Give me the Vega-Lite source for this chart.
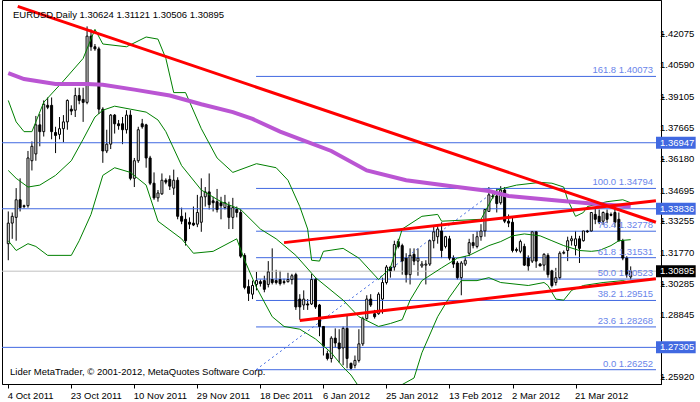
{
"$schema":"https://vega.github.io/schema/vega-lite/v6.json",
"width":659,"height":384,"autosize":"none",
"padding":{"left":2,"top":0,"right":39,"bottom":18},
"background":"#ffffff",
"config":{"view":{"stroke":"#000000","strokeWidth":1},"font":"Liberation Sans"},
"datasets":{
"levels":[{"p":1.36947},{"p":1.33836},{"p":1.27305}],
"bid":[{"p":1.30895}],
"ylabels":[{"p":1.42075},{"p":1.4059},{"p":1.39105},{"p":1.37665},{"p":1.3618},{"p":1.34695},{"p":1.33255},{"p":1.3177},{"p":1.30285},{"p":1.28845},{"p":1.2592}],
"fib":[{"level":"161.8","p":1.40073,"label":"161.8 1.40073"},{"level":"100.0","p":1.34794,"label":"100.0 1.34794"},{"level":"76.4","p":1.32778,"label":"76.4 1.32778"},{"level":"61.8","p":1.31531,"label":"61.8 1.31531"},{"level":"50.0","p":1.30523,"label":"50.0 1.30523"},{"level":"38.2","p":1.29515,"label":"38.2 1.29515"},{"level":"23.6","p":1.28268,"label":"23.6 1.28268"},{"level":"0.0","p":1.26252,"label":"0.0 1.26252"}],
"fibline":[{"i":62.9,"p":1.26252},{"i":124.4,"p":1.34794}],
"candles":[
{"i":0,"o":1.3219,"h":1.3371,"l":1.3141,"c":1.3316},{"i":1,"o":1.3316,"h":1.3366,"l":1.3242,"c":1.3348},{"i":2,"o":1.3343,"h":1.3481,"l":1.3233,"c":1.3426},{"i":3,"o":1.3426,"h":1.3527,"l":1.3371,"c":1.3389},{"i":4,"o":1.3394,"h":1.3403,"l":1.3385,"c":1.3398},{"i":5,"o":1.3398,"h":1.3656,"l":1.3389,"c":1.3623},{"i":6,"o":1.361,"h":1.3701,"l":1.3564,"c":1.3678},{"i":7,"o":1.3642,"h":1.3821,"l":1.361,"c":1.3779},{"i":8,"o":1.3779,"h":1.383,"l":1.3678,"c":1.3747},{"i":9,"o":1.3747,"h":1.3894,"l":1.3724,"c":1.3876},
{"i":10,"o":1.3871,"h":1.3908,"l":1.3853,"c":1.3862},{"i":11,"o":1.3871,"h":1.3908,"l":1.3711,"c":1.3747},{"i":12,"o":1.3743,"h":1.377,"l":1.3646,"c":1.3729},{"i":13,"o":1.3734,"h":1.3816,"l":1.3711,"c":1.3761},{"i":14,"o":1.3761,"h":1.3825,"l":1.3697,"c":1.3793},{"i":15,"o":1.3793,"h":1.3899,"l":1.3756,"c":1.3894},{"i":16,"o":1.3853,"h":1.3871,"l":1.3825,"c":1.3844},{"i":17,"o":1.3848,"h":1.3954,"l":1.3816,"c":1.3917},{"i":18,"o":1.3917,"h":1.3954,"l":1.3876,"c":1.3894},{"i":19,"o":1.3899,"h":1.3954,"l":1.3793,"c":1.3885},
{"i":20,"o":1.3885,"h":1.4243,"l":1.3876,"c":1.4197},{"i":21,"o":1.4197,"h":1.4229,"l":1.4128,"c":1.4147},{"i":22,"o":1.4147,"h":1.416,"l":1.4128,"c":1.4137},{"i":23,"o":1.4137,"h":1.4147,"l":1.383,"c":1.3853},{"i":24,"o":1.3853,"h":1.3862,"l":1.36,"c":1.3656},{"i":25,"o":1.3656,"h":1.3756,"l":1.3646,"c":1.3688},{"i":26,"o":1.3688,"h":1.383,"l":1.3665,"c":1.3825},{"i":27,"o":1.3825,"h":1.383,"l":1.3738,"c":1.3784},{"i":28,"o":1.3784,"h":1.3802,"l":1.3756,"c":1.3775},{"i":29,"o":1.3784,"h":1.3816,"l":1.3688,"c":1.3756},
{"i":30,"o":1.3756,"h":1.3848,"l":1.3738,"c":1.3825},{"i":31,"o":1.3825,"h":1.3848,"l":1.3518,"c":1.3527},{"i":32,"o":1.3527,"h":1.3623,"l":1.3486,"c":1.361},{"i":33,"o":1.361,"h":1.377,"l":1.36,"c":1.3756},{"i":34,"o":1.3784,"h":1.3807,"l":1.3761,"c":1.377},{"i":35,"o":1.3779,"h":1.3784,"l":1.3577,"c":1.3623},{"i":36,"o":1.3623,"h":1.3633,"l":1.3495,"c":1.3504},{"i":37,"o":1.3504,"h":1.3555,"l":1.3426,"c":1.3435},{"i":38,"o":1.3435,"h":1.3472,"l":1.3417,"c":1.3458},{"i":39,"o":1.3454,"h":1.355,"l":1.3449,"c":1.3518},
{"i":40,"o":1.3518,"h":1.3527,"l":1.3499,"c":1.3509},{"i":41,"o":1.3522,"h":1.3541,"l":1.3472,"c":1.349},{"i":42,"o":1.3481,"h":1.3568,"l":1.3449,"c":1.3518},{"i":43,"o":1.3518,"h":1.3532,"l":1.3334,"c":1.3348},{"i":44,"o":1.3348,"h":1.3389,"l":1.3311,"c":1.3325},{"i":45,"o":1.3334,"h":1.3366,"l":1.321,"c":1.3233},{"i":46,"o":1.332,"h":1.3343,"l":1.3288,"c":1.3311},{"i":47,"o":1.3316,"h":1.3394,"l":1.3302,"c":1.3307},{"i":48,"o":1.3311,"h":1.3449,"l":1.3297,"c":1.3366},{"i":49,"o":1.332,"h":1.3527,"l":1.3275,"c":1.344},
{"i":50,"o":1.344,"h":1.3486,"l":1.3394,"c":1.3463},{"i":51,"o":1.3463,"h":1.355,"l":1.338,"c":1.3403},{"i":52,"o":1.3421,"h":1.344,"l":1.3371,"c":1.3412},{"i":53,"o":1.3417,"h":1.3477,"l":1.3366,"c":1.338},{"i":54,"o":1.3412,"h":1.344,"l":1.3334,"c":1.3398},{"i":55,"o":1.3389,"h":1.3449,"l":1.338,"c":1.3412},{"i":56,"o":1.3398,"h":1.3417,"l":1.3288,"c":1.3343},{"i":57,"o":1.3343,"h":1.3435,"l":1.3288,"c":1.3389},{"i":58,"o":1.338,"h":1.3394,"l":1.3343,"c":1.3366},{"i":59,"o":1.3366,"h":1.338,"l":1.3151,"c":1.316},
{"i":60,"o":1.3164,"h":1.3174,"l":1.3004,"c":1.3013},{"i":61,"o":1.3017,"h":1.305,"l":1.2949,"c":1.2985},{"i":62,"o":1.2981,"h":1.3045,"l":1.2958,"c":1.3022},{"i":63,"o":1.3027,"h":1.3086,"l":1.2999,"c":1.3045},{"i":64,"o":1.304,"h":1.305,"l":1.3017,"c":1.3031},{"i":65,"o":1.3045,"h":1.3068,"l":1.299,"c":1.3004},{"i":66,"o":1.3027,"h":1.3137,"l":1.3013,"c":1.3086},{"i":67,"o":1.305,"h":1.3197,"l":1.3027,"c":1.3036},{"i":68,"o":1.3045,"h":1.3096,"l":1.3027,"c":1.3036},{"i":69,"o":1.305,"h":1.3091,"l":1.3022,"c":1.3031},
{"i":70,"o":1.304,"h":1.3054,"l":1.3027,"c":1.3036},{"i":71,"o":1.304,"h":1.3082,"l":1.3036,"c":1.305},{"i":72,"o":1.305,"h":1.3077,"l":1.3027,"c":1.3068},{"i":73,"o":1.3073,"h":1.3082,"l":1.2907,"c":1.2921},{"i":74,"o":1.2958,"h":1.2981,"l":1.2861,"c":1.2921},{"i":75,"o":1.293,"h":1.2999,"l":1.2907,"c":1.2958},{"i":76,"o":1.2935,"h":1.2958,"l":1.2907,"c":1.293},{"i":77,"o":1.2935,"h":1.3077,"l":1.293,"c":1.305},{"i":78,"o":1.305,"h":1.3059,"l":1.2912,"c":1.2921},{"i":79,"o":1.293,"h":1.2935,"l":1.2783,"c":1.2829},
{"i":80,"o":1.2829,"h":1.2829,"l":1.2692,"c":1.2737},{"i":81,"o":1.2701,"h":1.2715,"l":1.2669,"c":1.2678},{"i":82,"o":1.2678,"h":1.2783,"l":1.2659,"c":1.2774},{"i":83,"o":1.2774,"h":1.282,"l":1.2728,"c":1.2751},{"i":84,"o":1.2751,"h":1.2816,"l":1.2659,"c":1.2724},{"i":85,"o":1.2728,"h":1.2829,"l":1.2646,"c":1.282},{"i":86,"o":1.282,"h":1.2884,"l":1.2632,"c":1.2678},{"i":87,"o":1.2655,"h":1.2659,"l":1.2623,"c":1.2632},{"i":88,"o":1.2646,"h":1.2692,"l":1.2632,"c":1.2669},{"i":89,"o":1.2669,"h":1.2816,"l":1.2659,"c":1.2747},
{"i":90,"o":1.2747,"h":1.2875,"l":1.2737,"c":1.2866},{"i":91,"o":1.2866,"h":1.2976,"l":1.2861,"c":1.2958},{"i":92,"o":1.2958,"h":1.2981,"l":1.2921,"c":1.293},{"i":93,"o":1.2889,"h":1.2907,"l":1.2866,"c":1.2875},{"i":94,"o":1.2889,"h":1.299,"l":1.2884,"c":1.2981},{"i":95,"o":1.2958,"h":1.3059,"l":1.2889,"c":1.3036},{"i":96,"o":1.3036,"h":1.3118,"l":1.3027,"c":1.3109},{"i":97,"o":1.3109,"h":1.3114,"l":1.3059,"c":1.3091},{"i":98,"o":1.3109,"h":1.3233,"l":1.3091,"c":1.3215},{"i":99,"o":1.3229,"h":1.3242,"l":1.3197,"c":1.3206},
{"i":100,"o":1.321,"h":1.3219,"l":1.3073,"c":1.3137},{"i":101,"o":1.3151,"h":1.3174,"l":1.3036,"c":1.3073},{"i":102,"o":1.3073,"h":1.3197,"l":1.3027,"c":1.3164},{"i":103,"o":1.3169,"h":1.3197,"l":1.3118,"c":1.3137},{"i":104,"o":1.3137,"h":1.3197,"l":1.3068,"c":1.3151},{"i":105,"o":1.3114,"h":1.3137,"l":1.3105,"c":1.3123},{"i":106,"o":1.3118,"h":1.3141,"l":1.3027,"c":1.3123},{"i":107,"o":1.3123,"h":1.3238,"l":1.3114,"c":1.3233},{"i":108,"o":1.3233,"h":1.3302,"l":1.3197,"c":1.3275},{"i":109,"o":1.3252,"h":1.3311,"l":1.3219,"c":1.3288},
{"i":110,"o":1.3279,"h":1.332,"l":1.3151,"c":1.3187},{"i":111,"o":1.3206,"h":1.3256,"l":1.3197,"c":1.3252},{"i":112,"o":1.3242,"h":1.3256,"l":1.3141,"c":1.3151},{"i":113,"o":1.3151,"h":1.3164,"l":1.3105,"c":1.3123},{"i":114,"o":1.3128,"h":1.3137,"l":1.305,"c":1.3059},{"i":115,"o":1.3059,"h":1.3137,"l":1.2976,"c":1.3128},{"i":116,"o":1.3123,"h":1.316,"l":1.3114,"c":1.3141},{"i":117,"o":1.3174,"h":1.3242,"l":1.316,"c":1.3224},{"i":118,"o":1.3224,"h":1.3265,"l":1.3197,"c":1.321},{"i":119,"o":1.3206,"h":1.3279,"l":1.3197,"c":1.3252},
{"i":120,"o":1.3252,"h":1.3311,"l":1.3233,"c":1.3279},{"i":121,"o":1.3279,"h":1.338,"l":1.3252,"c":1.338},{"i":122,"o":1.3371,"h":1.3486,"l":1.3371,"c":1.3449},{"i":123,"o":1.3444,"h":1.3454,"l":1.3431,"c":1.344},{"i":124,"o":1.3444,"h":1.3481,"l":1.3366,"c":1.3408},{"i":125,"o":1.3412,"h":1.349,"l":1.3403,"c":1.3472},{"i":126,"o":1.3472,"h":1.3486,"l":1.3316,"c":1.3325},{"i":127,"o":1.3325,"h":1.3357,"l":1.3297,"c":1.3316},{"i":128,"o":1.332,"h":1.3343,"l":1.3178,"c":1.3187},{"i":129,"o":1.3192,"h":1.3201,"l":1.3178,"c":1.3187},
{"i":130,"o":1.3183,"h":1.3238,"l":1.3174,"c":1.3229},{"i":131,"o":1.3206,"h":1.3219,"l":1.3114,"c":1.3118},{"i":132,"o":1.3151,"h":1.3164,"l":1.3091,"c":1.3114},{"i":133,"o":1.3137,"h":1.3279,"l":1.3128,"c":1.3275},{"i":134,"o":1.3275,"h":1.3279,"l":1.3105,"c":1.3137},{"i":135,"o":1.3123,"h":1.3128,"l":1.3114,"c":1.3114},{"i":136,"o":1.3118,"h":1.3174,"l":1.3091,"c":1.3169},{"i":137,"o":1.3164,"h":1.3174,"l":1.3059,"c":1.3073},{"i":138,"o":1.3091,"h":1.3096,"l":1.3013,"c":1.3022},{"i":139,"o":1.3036,"h":1.3105,"l":1.3022,"c":1.3059},
{"i":140,"o":1.3059,"h":1.3183,"l":1.305,"c":1.3174},{"i":141,"o":1.3174,"h":1.3187,"l":1.3169,"c":1.3178},{"i":142,"o":1.3187,"h":1.3252,"l":1.3137,"c":1.3233},{"i":143,"o":1.3233,"h":1.3256,"l":1.321,"c":1.3242},{"i":144,"o":1.321,"h":1.3279,"l":1.3164,"c":1.3242},{"i":145,"o":1.3242,"h":1.3256,"l":1.3128,"c":1.3197},{"i":146,"o":1.3233,"h":1.3279,"l":1.3229,"c":1.3279},{"i":147,"o":1.3279,"h":1.3284,"l":1.327,"c":1.3275},{"i":148,"o":1.3279,"h":1.3366,"l":1.3275,"c":1.3366},{"i":149,"o":1.3357,"h":1.3389,"l":1.3311,"c":1.3334},
{"i":150,"o":1.3348,"h":1.338,"l":1.3311,"c":1.332},{"i":151,"o":1.3325,"h":1.3371,"l":1.3307,"c":1.3366},{"i":152,"o":1.3362,"h":1.338,"l":1.3316,"c":1.3334},{"i":153,"o":1.3357,"h":1.3366,"l":1.3348,"c":1.3353},{"i":154,"o":1.3366,"h":1.3394,"l":1.3297,"c":1.332},{"i":155,"o":1.3334,"h":1.3366,"l":1.3229,"c":1.3233},{"i":156,"o":1.3233,"h":1.3242,"l":1.3141,"c":1.3151},{"i":157,"o":1.3151,"h":1.316,"l":1.3059,"c":1.3073},{"i":158,"o":1.30624,"h":1.31121,"l":1.30506,"c":1.30895}
],
"ma":[{"i":0,"p":1.4023},{"i":4,"p":1.3995},{"i":12,"p":1.3972},{"i":20,"p":1.3972},{"i":24,"p":1.3968},{"i":32,"p":1.3945},{"i":41,"p":1.3917},{"i":49,"p":1.3876},{"i":57,"p":1.3839},{"i":62,"p":1.3807},{"i":69,"p":1.3747},{"i":82,"p":1.3656},{"i":91,"p":1.3564},{"i":101,"p":1.3518},{"i":114,"p":1.3486},{"i":122,"p":1.3467},{"i":127,"p":1.3444},{"i":140,"p":1.3421},{"i":148,"p":1.3408},{"i":158,"p":1.3394}],
"bb":[
{"band":"upper","i":0,"p":1.3894},{"band":"upper","i":2,"p":1.3793},{"band":"upper","i":4,"p":1.3747},{"band":"upper","i":6,"p":1.3747},{"band":"upper","i":9,"p":1.3885},{"band":"upper","i":14,"p":1.3986},{"band":"upper","i":19,"p":1.4092},{"band":"upper","i":22,"p":1.4229},{"band":"upper","i":24,"p":1.416},{"band":"upper","i":30,"p":1.4147},{"band":"upper","i":35,"p":1.4193},{"band":"upper","i":38,"p":1.4183},{"band":"upper","i":40,"p":1.4092},{"band":"upper","i":42,"p":1.3931},{"band":"upper","i":45,"p":1.3931},{"band":"upper","i":49,"p":1.3761},{"band":"upper","i":53,"p":1.3623},{"band":"upper","i":57,"p":1.3555},{"band":"upper","i":63,"p":1.3596},{"band":"upper","i":68,"p":1.3577},{"band":"upper","i":71,"p":1.3518},{"band":"upper","i":74,"p":1.3394},{"band":"upper","i":76,"p":1.3288},{"band":"upper","i":77,"p":1.3141},{"band":"upper","i":79,"p":1.3137},{"band":"upper","i":80,"p":1.3183},{"band":"upper","i":85,"p":1.3197},{"band":"upper","i":89,"p":1.3151},{"band":"upper","i":94,"p":1.305},{"band":"upper","i":97,"p":1.3105},{"band":"upper","i":100,"p":1.3288},{"band":"upper","i":105,"p":1.3348},{"band":"upper","i":109,"p":1.3357},{"band":"upper","i":110,"p":1.3325},{"band":"upper","i":120,"p":1.3334},{"band":"upper","i":124,"p":1.3472},{"band":"upper","i":129,"p":1.3495},{"band":"upper","i":135,"p":1.3508},{"band":"upper","i":138,"p":1.3504},{"band":"upper","i":141,"p":1.3486},{"band":"upper","i":142,"p":1.3426},{"band":"upper","i":144,"p":1.3348},{"band":"upper","i":146,"p":1.3366},{"band":"upper","i":147,"p":1.3394},{"band":"upper","i":152,"p":1.3417},{"band":"upper","i":156,"p":1.3426},{"band":"upper","i":158,"p":1.3412},
{"band":"middle","i":0,"p":1.3564},{"band":"middle","i":2,"p":1.3527},{"band":"middle","i":5,"p":1.3486},{"band":"middle","i":8,"p":1.3495},{"band":"middle","i":12,"p":1.3541},{"band":"middle","i":16,"p":1.361},{"band":"middle","i":19,"p":1.3711},{"band":"middle","i":22,"p":1.3816},{"band":"middle","i":24,"p":1.3848},{"band":"middle","i":27,"p":1.3867},{"band":"middle","i":31,"p":1.3853},{"band":"middle","i":35,"p":1.3839},{"band":"middle","i":38,"p":1.3802},{"band":"middle","i":40,"p":1.3747},{"band":"middle","i":44,"p":1.3587},{"band":"middle","i":49,"p":1.3472},{"band":"middle","i":54,"p":1.3417},{"band":"middle","i":59,"p":1.338},{"band":"middle","i":64,"p":1.3288},{"band":"middle","i":68,"p":1.3242},{"band":"middle","i":73,"p":1.3164},{"band":"middle","i":78,"p":1.3059},{"band":"middle","i":85,"p":1.2953},{"band":"middle","i":89,"p":1.2875},{"band":"middle","i":94,"p":1.2829},{"band":"middle","i":97,"p":1.2843},{"band":"middle","i":100,"p":1.2861},{"band":"middle","i":102,"p":1.2953},{"band":"middle","i":105,"p":1.3045},{"band":"middle","i":110,"p":1.3105},{"band":"middle","i":114,"p":1.3151},{"band":"middle","i":117,"p":1.3164},{"band":"middle","i":122,"p":1.321},{"band":"middle","i":125,"p":1.3229},{"band":"middle","i":128,"p":1.3256},{"band":"middle","i":131,"p":1.3265},{"band":"middle","i":135,"p":1.3256},{"band":"middle","i":138,"p":1.3233},{"band":"middle","i":141,"p":1.321},{"band":"middle","i":145,"p":1.3187},{"band":"middle","i":148,"p":1.3183},{"band":"middle","i":150,"p":1.3187},{"band":"middle","i":153,"p":1.321},{"band":"middle","i":155,"p":1.3233},{"band":"middle","i":158,"p":1.3238},
{"band":"lower","i":0,"p":1.3233},{"band":"lower","i":2,"p":1.3187},{"band":"lower","i":5,"p":1.3219},{"band":"lower","i":7,"p":1.3206},{"band":"lower","i":10,"p":1.3164},{"band":"lower","i":16,"p":1.3164},{"band":"lower","i":18,"p":1.3233},{"band":"lower","i":21,"p":1.3357},{"band":"lower","i":24,"p":1.3541},{"band":"lower","i":27,"p":1.3577},{"band":"lower","i":31,"p":1.3555},{"band":"lower","i":35,"p":1.3495},{"band":"lower","i":38,"p":1.3325},{"band":"lower","i":44,"p":1.3242},{"band":"lower","i":47,"p":1.3174},{"band":"lower","i":52,"p":1.3183},{"band":"lower","i":58,"p":1.3242},{"band":"lower","i":60,"p":1.3141},{"band":"lower","i":63,"p":1.3013},{"band":"lower","i":67,"p":1.2875},{"band":"lower","i":70,"p":1.2829},{"band":"lower","i":74,"p":1.2816},{"band":"lower","i":78,"p":1.277},{"band":"lower","i":82,"p":1.2705},{"band":"lower","i":85,"p":1.2637},{"band":"lower","i":87,"p":1.26},{"band":"lower","i":89,"p":1.2545},{"band":"lower","i":94,"p":1.2517},{"band":"lower","i":99,"p":1.2545},{"band":"lower","i":103,"p":1.2586},{"band":"lower","i":105,"p":1.2705},{"band":"lower","i":109,"p":1.2875},{"band":"lower","i":112,"p":1.2967},{"band":"lower","i":115,"p":1.3045},{"band":"lower","i":119,"p":1.3045},{"band":"lower","i":122,"p":1.3059},{"band":"lower","i":125,"p":1.3036},{"band":"lower","i":132,"p":1.3022},{"band":"lower","i":136,"p":1.3036},{"band":"lower","i":137,"p":1.3022},{"band":"lower","i":139,"p":1.2958},{"band":"lower","i":141,"p":1.2953},{"band":"lower","i":143,"p":1.2999},{"band":"lower","i":146,"p":1.3022},{"band":"lower","i":151,"p":1.3036},{"band":"lower","i":156,"p":1.3045},{"band":"lower","i":158,"p":1.3036}
],
"trend":[{"id":"a","i":2.4,"p":1.4337},{"id":"a","i":164.4,"p":1.332},{"id":"b","i":70,"p":1.3224},{"id":"b","i":164.4,"p":1.3421},{"id":"c","i":74,"p":1.2857},{"id":"c","i":164.4,"p":1.3054}],
"boxes":[{"p":1.36947},{"p":1.33836},{"p":1.27305}],
"last":[{"p":1.30895}]
},
"layer":[
{"data":{"name":"candles"},"mark":{"type":"rule","color":"#000000","strokeWidth":1},
 "encoding":{"x":{"field":"i","type":"quantitative","scale":{"domain":[-0.325,164.425],"nice":false,"zero":false},
   "axis":{"values":[0,16,32,48,64,80,96,112,128,144],"labelExpr":"['4 Oct 2011','23 Oct 2011','10 Nov 2011','29 Nov 2011','18 Dec 2011','6 Jan 2012','25 Jan 2012','13 Feb 2012','2 Mar 2012','21 Mar 2012'][round(datum.value/16)]","labelAlign":"left","labelOffset":-1,"labelFont":"Liberation Sans","labelFontSize":9.5,"labelColor":"#000000","tickColor":"#000000","tickSize":4,"domainColor":"#000000","labelPadding":2,"title":null,"grid":false,"labelFlush":false,"labelOverlap":false,"labelBound":false}},
 "y":{"field":"l","type":"quantitative","scale":{"domain":[1.25814,1.43438],"nice":false,"zero":false},
   "axis":{"orient":"right","values":[1.42075,1.4059,1.39105,1.37665,1.3618,1.34695,1.33255,1.3177,1.30285,1.28845,1.2592],"labels":false,"tickColor":"#000000","tickSize":3,"domainColor":"#000000","title":null,"grid":false}},
 "y2":{"field":"h"}}},
{"data":{"name":"levels"},"mark":{"type":"rule","color":"#4169E1","strokeWidth":1},
 "encoding":{"y":{"field":"p","type":"quantitative","scale":{"domain":[1.25814,1.43438],"nice":false,"zero":false}}}},
{"data":{"name":"bid"},"mark":{"type":"rule","color":"#C0C0C0","strokeWidth":1},
 "encoding":{"y":{"field":"p","type":"quantitative","scale":{"domain":[1.25814,1.43438],"nice":false,"zero":false}}}},
{"data":{"name":"fib"},"mark":{"type":"rule","color":"#4169E1","strokeWidth":1},
 "encoding":{"x":{"datum":62.9,"type":"quantitative","scale":{"domain":[-0.325,164.425],"nice":false,"zero":false}},"x2":{"datum":164.425},
 "y":{"field":"p","type":"quantitative","scale":{"domain":[1.25814,1.43438],"nice":false,"zero":false}}}},
{"data":{"name":"fibline"},"mark":{"type":"line","color":"#4169E1","strokeWidth":1,"strokeDash":[2,3]},
 "encoding":{"x":{"field":"i","type":"quantitative","scale":{"domain":[-0.325,164.425],"nice":false,"zero":false}},
 "y":{"field":"p","type":"quantitative","scale":{"domain":[1.25814,1.43438],"nice":false,"zero":false}}}},
{"data":{"name":"candles"},"mark":{"type":"bar","width":2,"stroke":"#000000","strokeWidth":1},
 "encoding":{"x":{"field":"i","type":"quantitative","scale":{"domain":[-0.325,164.425],"nice":false,"zero":false}},
 "y":{"field":"o","type":"quantitative","scale":{"domain":[1.25814,1.43438],"nice":false,"zero":false}},
 "y2":{"field":"c"},
 "fill":{"condition":{"test":"datum.c >= datum.o","value":"#ffffff"},"value":"#000000"}}},
{"data":{"name":"bb"},"mark":{"type":"line","color":"#008000","strokeWidth":1,"clip":true},
 "encoding":{"x":{"field":"i","type":"quantitative","scale":{"domain":[-0.325,164.425],"nice":false,"zero":false}},
 "y":{"field":"p","type":"quantitative","scale":{"domain":[1.25814,1.43438],"nice":false,"zero":false}},
 "detail":{"field":"band"}}},
{"data":{"name":"ma"},"mark":{"type":"line","color":"#BA55D3","strokeWidth":4,"clip":true},
 "encoding":{"x":{"field":"i","type":"quantitative","scale":{"domain":[-0.325,164.425],"nice":false,"zero":false}},
 "y":{"field":"p","type":"quantitative","scale":{"domain":[1.25814,1.43438],"nice":false,"zero":false}}}},
{"data":{"name":"trend"},"mark":{"type":"line","color":"#FF0000","strokeWidth":3,"clip":true},
 "encoding":{"x":{"field":"i","type":"quantitative","scale":{"domain":[-0.325,164.425],"nice":false,"zero":false}},
 "y":{"field":"p","type":"quantitative","scale":{"domain":[1.25814,1.43438],"nice":false,"zero":false}},
 "detail":{"field":"id"}}},
{"data":{"name":"fib"},"mark":{"type":"text","color":"#6A85EA","font":"Liberation Sans","fontSize":9.5,"align":"right","baseline":"bottom","dy":-1},
 "encoding":{"x":{"datum":163.7,"type":"quantitative","scale":{"domain":[-0.325,164.425],"nice":false,"zero":false}},
 "y":{"field":"p","type":"quantitative","scale":{"domain":[1.25814,1.43438],"nice":false,"zero":false}},
 "text":{"field":"label"}}},
{"data":{"name":"ylabels"},"mark":{"type":"text","color":"#000000","font":"Liberation Sans","fontSize":9.5,"align":"left","baseline":"middle"},
 "encoding":{"x":{"datum":165.43,"type":"quantitative","scale":{"domain":[-0.325,164.425],"nice":false,"zero":false}},
 "y":{"field":"p","type":"quantitative","scale":{"domain":[1.25814,1.43438],"nice":false,"zero":false}},
 "text":{"field":"p","format":".5f"}}},
{"data":{"name":"boxes"},"mark":{"type":"bar","height":12,"color":"#4169E1"},
 "encoding":{"x":{"datum":164.425,"type":"quantitative","scale":{"domain":[-0.325,164.425],"nice":false,"zero":false}},"x2":{"datum":174.5},
 "y":{"field":"p","type":"quantitative","scale":{"domain":[1.25814,1.43438],"nice":false,"zero":false}}}},
{"data":{"name":"last"},"mark":{"type":"bar","height":12,"color":"#000000"},
 "encoding":{"x":{"datum":164.425,"type":"quantitative","scale":{"domain":[-0.325,164.425],"nice":false,"zero":false}},"x2":{"datum":174.5},
 "y":{"field":"p","type":"quantitative","scale":{"domain":[1.25814,1.43438],"nice":false,"zero":false}}}},
{"data":{"name":"boxes"},"mark":{"type":"text","color":"#ffffff","font":"Liberation Sans","fontSize":9.5,"align":"left","baseline":"middle"},
 "encoding":{"x":{"datum":165.43,"type":"quantitative","scale":{"domain":[-0.325,164.425],"nice":false,"zero":false}},
 "y":{"field":"p","type":"quantitative","scale":{"domain":[1.25814,1.43438],"nice":false,"zero":false}},
 "text":{"field":"p","format":".5f"}}},
{"data":{"name":"last"},"mark":{"type":"text","color":"#ffffff","font":"Liberation Sans","fontSize":9.5,"align":"left","baseline":"middle"},
 "encoding":{"x":{"datum":165.43,"type":"quantitative","scale":{"domain":[-0.325,164.425],"nice":false,"zero":false}},
 "y":{"field":"p","type":"quantitative","scale":{"domain":[1.25814,1.43438],"nice":false,"zero":false}},
 "text":{"field":"p","format":".5f"}}},
{"data":{"values":[{}]},"mark":{"type":"text","color":"#000000","font":"Liberation Sans","fontSize":9.5,"align":"left","baseline":"middle"},
 "encoding":{"x":{"datum":1.2,"type":"quantitative","scale":{"domain":[-0.325,164.425],"nice":false,"zero":false}},"y":{"datum":1.4296,"type":"quantitative","scale":{"domain":[1.25814,1.43438],"nice":false,"zero":false}},
 "text":{"value":"EURUSD,Daily  1.30624 1.31121 1.30506 1.30895"}}},
{"data":{"values":[{}]},"mark":{"type":"text","color":"#000000","font":"Liberation Sans","fontSize":9.5,"align":"left","baseline":"middle"},
 "encoding":{"x":{"datum":0.45,"type":"quantitative","scale":{"domain":[-0.325,164.425],"nice":false,"zero":false}},"y":{"datum":1.2614,"type":"quantitative","scale":{"domain":[1.25814,1.43438],"nice":false,"zero":false}},
 "text":{"value":"Lider MetaTrader, © 2001-2012, MetaQuotes Software Corp."}}}
]
}
